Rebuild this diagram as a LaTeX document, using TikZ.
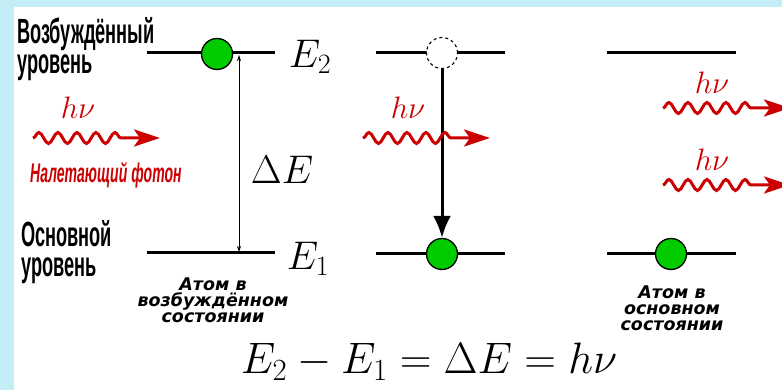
\documentclass[tikz,border=0pt]{standalone}
\usepackage{fix-cm}
\usepackage{fontspec}
\usetikzlibrary{arrows.meta,decorations.pathmorphing}
\newfontfamily\narrowfont[FakeStretch=0.52]{Liberation Sans}
\newfontfamily\atomfont{DejaVu Sans}
\definecolor{photonred}{RGB}{204,0,0}
\definecolor{atomgreen}{RGB}{0,204,0}
\definecolor{framecyan}{RGB}{196,238,245}

\begin{document}
\begin{tikzpicture}[x=1pt,y=-1pt,
  level/.style={line width=3pt},
  atom/.style={circle,draw=black,line width=1.3pt,fill=atomgreen,minimum size=31pt,inner sep=0pt},
  ghost/.style={circle,draw=black,dashed,line width=1.1pt,fill=white,minimum size=31pt,inner sep=0pt},
  photon/.style={photonred,line width=3pt,-{Stealth[length=26pt,width=17pt,inset=6pt]},
    decorate,decoration={snake,segment length=19pt,amplitude=5.5pt,post length=34pt}},
  levtext/.style={inner sep=0pt,align=left,font=\narrowfont\bfseries\fontsize{35}{30}\selectfont},
  statetext/.style={inner sep=0pt,align=center,font=\atomfont\bfseries\itshape\fontsize{17.5}{16}\selectfont},
  hnu/.style={photonred,font=\fontsize{31}{31}\selectfont},
  energy/.style={font=\fontsize{40}{40}\selectfont}]
\useasboundingbox (0,0) rectangle (782,390);
\fill[framecyan] (0,0) rectangle (782,390);
\fill[white] (14,7) rectangle (782,390);
\clip (0,0) rectangle (782,390);

% level names
\node[levtext,anchor=north west] (upname) at (17,17) {Возбуждённый\\уровень};
\node[levtext,anchor=north west] (downname) at (21,220) {Основной\\уровень};

% levels
\coordinate (upA-w) at (147,53);   \coordinate (upA-e) at (275,53);
\coordinate (downA-w) at (147,253); \coordinate (downA-e) at (275,253);
\coordinate (upB-w) at (376,53);   \coordinate (upB-e) at (505,53);
\coordinate (downB-w) at (376,254); \coordinate (downB-e) at (505,254);
\coordinate (upC-w) at (607,53);   \coordinate (upC-e) at (736,53);
\coordinate (downC-w) at (607,254); \coordinate (downC-e) at (736,254);
\draw[level] (upA-w) -- (upA-e);
\draw[level] (downA-w) -- (downA-e);
\draw[level] (upB-w) -- (upB-e);
\draw[level] (downB-w) -- (downB-e);
\draw[level] (upC-w) -- (upC-e);
\draw[level] (downC-w) -- (downC-e);

\node at (310,57) [energy] (e2) {$E_2$};
\node at (308,259) [energy] (e1) {$E_1$};

% energy gap
\coordinate (gaptop) at (239,55);
\coordinate (gapbot) at (239,252);
\draw[line width=0.8pt,{Stealth[length=6pt,width=4pt]}-{Stealth[length=6pt,width=4pt]}] (gapbot) -- (gaptop);
\node at (282,170) [energy] (gap) {$\Delta E$};

% atoms
\node[atom] (atomA) at (217,54) {};
\node[ghost] (ghostB) at (442,53) {};
\node[atom] (atomB) at (442,254) {};
\node[atom] (atomC) at (671,254) {};
\draw[line width=3pt,-{Latex[length=22pt,width=18pt]}] (ghostB.south) -- (atomB.north);

% photons
\coordinate (phA) at (33,138);  \coordinate (phA-end) at (160,138);
\coordinate (phB) at (363,138); \coordinate (phB-end) at (490,138);
\coordinate (phC) at (663,108); \coordinate (phC-end) at (790,108);
\coordinate (phD) at (663,185); \coordinate (phD-end) at (790,185);
\draw[photon] (phA) -- (phA-end);
\draw[photon] (phB) -- (phB-end);
\draw[photon] (phC) -- (phC-end);
\draw[photon] (phD) -- (phD-end);
\node[hnu] (hnuA) at (78,108) {$h\nu$};
\node[hnu] (hnuB) at (408,108) {$h\nu$};
\node[hnu] (hnuC) at (712,83) {$h\nu$};
\node[hnu] (hnuD) at (712,160) {$h\nu$};
\node[anchor=base west,inner sep=0pt,photonred,font=\narrowfont\bfseries\itshape\fontsize{27}{27}\selectfont]
  (incoming) at (30,183) {Налетающий фотон};

% states
\node[statetext,anchor=north] (stateA) at (213,278) {Атом в\\возбуждённом\\состоянии};
\node[statetext,anchor=north] (stateC) at (672,286) {Атом в\\основном\\состоянии};

\node[font=\fontsize{44}{44}\selectfont] (law) at (429,362) {$E_2-E_1=\Delta E=h\nu$};
\end{tikzpicture}
\end{document}
